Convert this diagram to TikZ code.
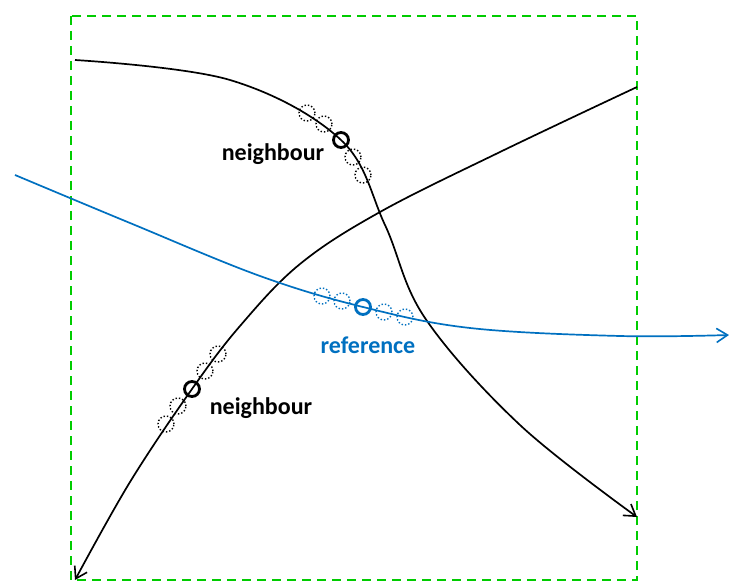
\documentclass[tikz,border=0pt]{standalone}
\usepackage{fontspec}
\setmainfont{Carlito}
\usetikzlibrary{arrows.meta}
\definecolor{refblue}{RGB}{0,112,192}
\definecolor{boxgreen}{RGB}{0,204,0}
\tikzset{
  x=1pt, y=-1pt,
  track/.style={line width=1.7pt, smooth, tension=0.6, -{Straight Barb[length=11pt,width=14pt,line width=1.6pt]}},
  mainpt/.style={circle, draw, line width=2.8pt, minimum size=15pt, inner sep=0pt},
  nearpt/.style={circle, draw, dotted, line width=1.4pt, minimum size=16pt, inner sep=0pt},
  lbl/.style={font=\fontsize{24}{26}\selectfont\bfseries, inner sep=0pt}
}
\begin{document}
\begin{tikzpicture}
\useasboundingbox (0,0) rectangle (729,583);
% search window
\draw[boxgreen, line width=2.2pt, dash pattern=on 9pt off 6pt] (71,16) rectangle (637,580);

% neighbour tracks
\draw[track] plot coordinates {(75,60) (230,80) (341,140) (385,225) (425,318) (520,425) (637,517)};
\draw[track] plot coordinates {(637,87) (500,152) (380,212) (300,264) (240,326) (192,389) (130,482) (75,580)};
% reference track
\draw[track, refblue] plot coordinates {(15,175) (130,223) (260,276) (363,307) (470,328) (620,336) (729,335)};

% upper neighbour point and its samples
\node[nearpt] (u1) at (307,113) {};
\node[nearpt] (u2) at (324,124) {};
\node[mainpt] (u0) at (341,140) {};
\node[nearpt] (u3) at (353,157) {};
\node[nearpt] (u4) at (363,175) {};
\node[lbl] (ulbl) at (273,154) {neighbour};

% lower neighbour point and its samples
\node[nearpt] (l1) at (218,354) {};
\node[nearpt] (l2) at (205,371) {};
\node[mainpt] (l0) at (192,389) {};
\node[nearpt] (l3) at (178,406) {};
\node[nearpt] (l4) at (166,424) {};
\node[lbl] (llbl) at (261,408) {neighbour};

% reference point and its samples
\node[nearpt, refblue] (r1) at (322,296) {};
\node[nearpt, refblue] (r2) at (342,301) {};
\node[mainpt, refblue] (r0) at (363,307) {};
\node[nearpt, refblue] (r3) at (384,312) {};
\node[nearpt, refblue] (r4) at (405,317) {};
\node[lbl, refblue] (rlbl) at (368,345) {reference};
\end{tikzpicture}
\end{document}
